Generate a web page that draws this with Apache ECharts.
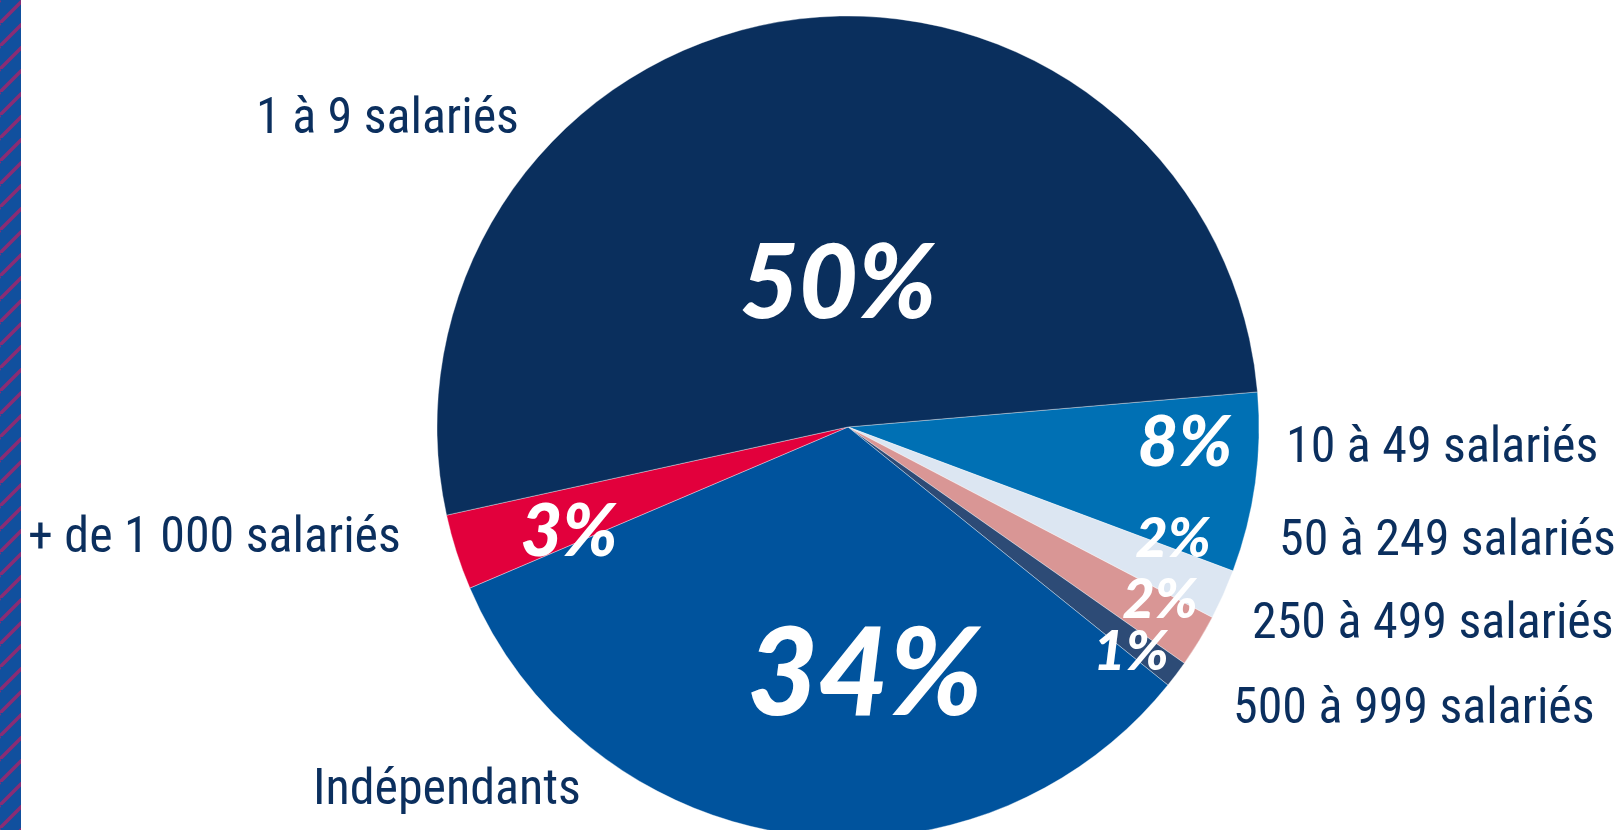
<!DOCTYPE html>
<html>
<head>
<meta charset="utf-8">
<script src="https://cdn.jsdelivr.net/npm/echarts@6/dist/echarts.min.js"></script>
<style>
  html, body { margin: 0; padding: 0; background: #fff; }
  #chart { width: 1622px; height: 830px; }
</style>
</head>
<body>
<div id="chart"></div>
<script>
// slices, clockwise from the 10-49 wedge (upper right)
const NAMES = [
  "10 à 49 salariés",
  "50 à 249 salariés",
  "250 à 499 salariés",
  "500 à 999 salariés",
  "Indépendants",
  "+ de 1 000 salariés",
  "1 à 9 salariés",
];
const SHARES = [7.06, 1.97, 2.08, 1.06, 32.8, 2.97, 52.1];
const PCT_LABELS = ["8%", "2%", "2%", "1%", "34%", "3%", "50%"];

const COLORS = ["#0070b4", "#dce6f2", "#d99695", "#2d4b76", "#00539d", "#e2003c", "#0a2f5d"];
const PCT_SIZE = [70, 56, 56, 56, 122, 72, 102];

// label placement (left edge / centre y for names, centre for percents)
const NAME_POS = [[1286, 449], [1279, 542], [1252, 625], [1233, 710], [313, 791], [28, 539], [256, 120]];
const PCT_POS = [[1185, 443], [1173, 539], [1160, 600], [1131, 652], [865, 676], [569, 533], [838, 285]];

const NAVY = "#0b2f5e";
const NAME_FONT = "'Liberation Sans Narrow', 'Roboto Condensed', 'Arial Narrow', Roboto, sans-serif";

function stripeTile() {
  const c = document.createElement("canvas");
  c.width = 23; c.height = 23;
  const ctx = c.getContext("2d");
  ctx.fillStyle = "#11509e";
  ctx.fillRect(0, 0, 23, 23);
  ctx.strokeStyle = "#8a2c74";
  ctx.lineWidth = 3.5;
  for (const off of [-23, 0, 23]) {
    ctx.beginPath();
    ctx.moveTo(0 + off, 23);
    ctx.lineTo(23 + off, 0);
    ctx.stroke();
  }
  return c;
}

const chart = echarts.init(document.getElementById("chart"), null, { renderer: "canvas" });

const pieBase = {
  type: "pie",
  center: [848, 427],
  radius: 411,
  startAngle: 4.9,
  clockwise: true,
  avoidLabelOverlap: false,
  labelLine: { show: false },
  animation: false,
};

chart.setOption({
  backgroundColor: "#fff",
  graphic: [{
    type: "rect",
    left: 0, top: 0,
    shape: { x: 0, y: 0, width: 21, height: 830 },
    style: { fill: { image: stripeTile(), repeat: "repeat" } },
    silent: true,
  }],
  series: [
    {
      ...pieBase,
      itemStyle: { borderColor: "rgba(255,255,255,0.6)", borderWidth: 0.6 },
      data: SHARES.map((v, i) => ({
        value: v,
        name: NAMES[i],
        itemStyle: { color: COLORS[i] },
        label: { fontSize: PCT_SIZE[i] },
      })),
      label: {
        show: true,
        position: "inside",
        color: "#fff",
        fontFamily: "Lato, 'DejaVu Sans', sans-serif",
        fontStyle: "italic",
        fontWeight: 900,
        formatter: p => PCT_LABELS[p.dataIndex],
      },
      labelLayout: p => ({
        x: PCT_POS[p.dataIndex][0],
        y: PCT_POS[p.dataIndex][1],
        align: "center",
        verticalAlign: "middle",
      }),
    },
    {
      ...pieBase,
      silent: true,
      itemStyle: { color: "transparent" },
      data: SHARES.map((v, i) => ({ value: v, name: NAMES[i] })),
      label: {
        show: true,
        position: "outside",
        color: NAVY,
        fontFamily: NAME_FONT,
        fontSize: 50,
        formatter: p => p.name,
      },
      labelLayout: p => ({
        x: NAME_POS[p.dataIndex][0],
        y: NAME_POS[p.dataIndex][1],
        align: "left",
        verticalAlign: "middle",
      }),
    },
  ],
});
</script>
</body>
</html>
